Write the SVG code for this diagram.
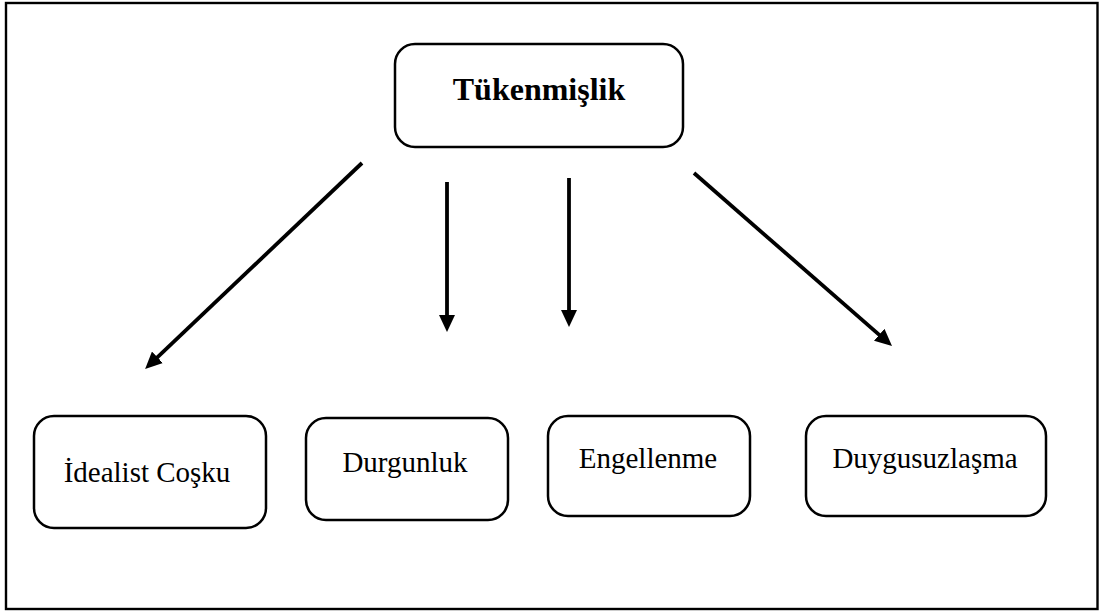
<svg xmlns="http://www.w3.org/2000/svg" width="1101" height="612" viewBox="0 0 1101 612">
<defs>
<style>
.box{fill:#fff;stroke:#000;stroke-width:2.5}
.lbl{font-family:"Liberation Serif","Times New Roman",serif;font-size:29px;fill:#000;text-anchor:middle}
.ttl{font-family:"Liberation Serif","Times New Roman",serif;font-size:32px;font-weight:bold;fill:#000;text-anchor:middle}
.arr{stroke:#000;stroke-width:3.8;fill:none;marker-end:url(#ah)}
</style>
<marker id="ah" viewBox="0 0 17 16" refX="2" refY="8" markerWidth="17" markerHeight="16" markerUnits="userSpaceOnUse" orient="auto">
<path d="M0,0 L17,8 L0,16 z" fill="#000"/>
</marker>
</defs>
<rect width="1101" height="612" fill="#fff"/>
<rect x="6" y="3" width="1091.5" height="606" fill="none" stroke="#000" stroke-width="2.4"/>
<g id="connectors">
<line class="arr" x1="362" y1="163" x2="156" y2="358.7"/>
<line class="arr" x1="447" y1="182" x2="447" y2="317"/>
<line class="arr" x1="569" y1="178" x2="569" y2="312"/>
<line class="arr" x1="694" y1="173" x2="880.7" y2="336.1"/>
</g>
<g id="tukenmislik">
<rect class="box" x="395" y="44" width="288" height="103" rx="20"/>
<text class="ttl" x="539" y="100">Tükenmişlik</text>
</g>
<g id="idealist-cosku">
<rect class="box" x="34" y="416" width="232" height="112" rx="20"/>
<text class="lbl" x="147" y="482">İdealist Coşku</text>
</g>
<g id="durgunluk">
<rect class="box" x="306" y="418" width="202" height="102" rx="20"/>
<text class="lbl" x="405" y="472">Durgunluk</text>
</g>
<g id="engellenme">
<rect class="box" x="548" y="416" width="202" height="100" rx="20"/>
<text class="lbl" x="648" y="468">Engellenme</text>
</g>
<g id="duygusuzlasma">
<rect class="box" x="806" y="416" width="240" height="100" rx="20"/>
<text class="lbl" x="925" y="468">Duygusuzlaşma</text>
</g>
</svg>
